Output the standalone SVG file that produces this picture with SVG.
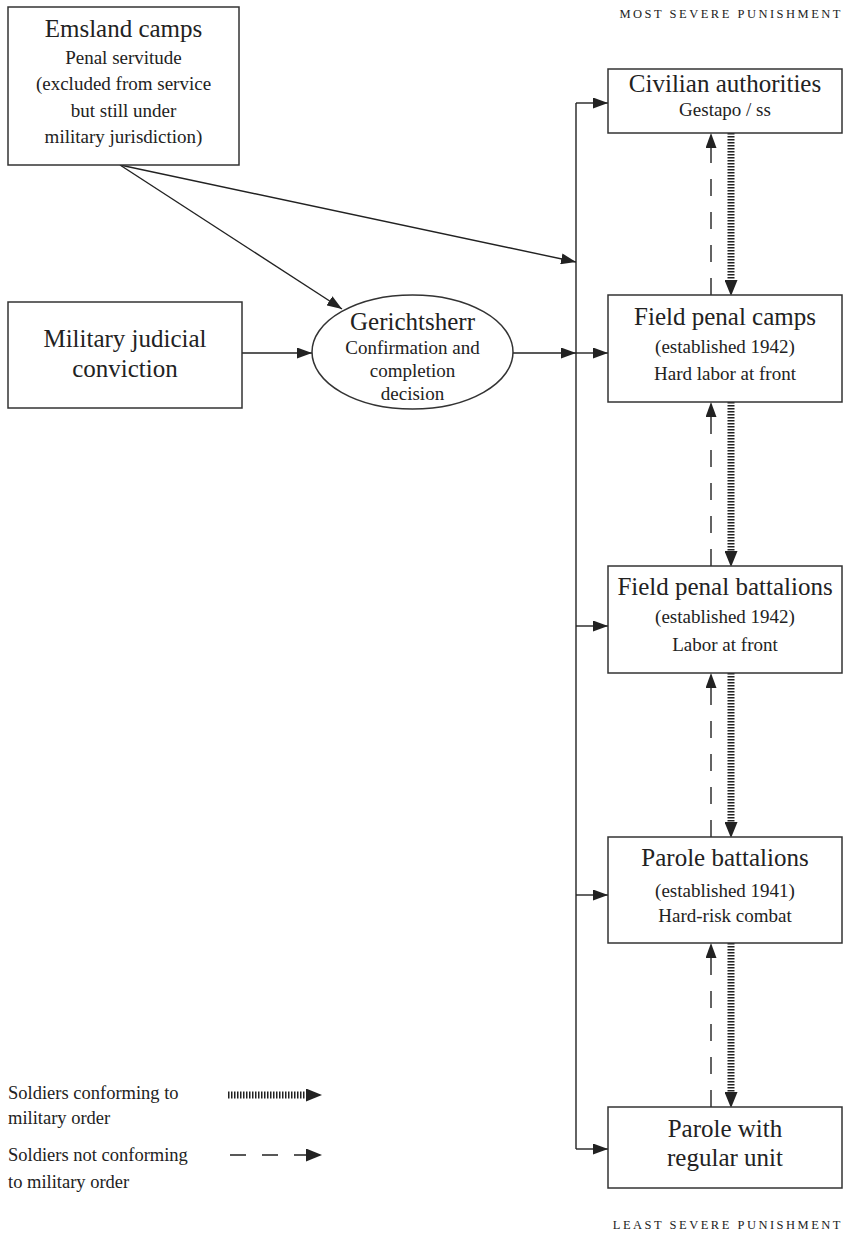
<svg xmlns="http://www.w3.org/2000/svg" width="848" height="1244" viewBox="0 0 848 1244">
<style>
.box{fill:#fff;stroke:#333;stroke-width:1.5}
.t{font-family:"Liberation Serif","DejaVu Serif",serif;fill:#222;text-anchor:middle}
.h{font-size:25px}
.s{font-size:19px}
.ln{fill:none;stroke:#222;stroke-width:1.4}
.dash{fill:none;stroke:#222;stroke-width:1.4;stroke-dasharray:17 16}
.hatch{fill:none;stroke:#222;stroke-width:7;stroke-dasharray:1.5 1.5}
.cap{font-size:12.5px;letter-spacing:2.5px;text-anchor:end}
.lg{font-size:18.5px;text-anchor:start}
</style>
<defs>
<marker id="a" markerUnits="userSpaceOnUse" markerWidth="15" markerHeight="11" refX="15" refY="5.5" orient="auto">
<path d="M0,0 L15,5.5 L0,11 z" fill="#222"/>
</marker>
<marker id="hb" markerUnits="userSpaceOnUse" markerWidth="16" markerHeight="13" refX="0" refY="6.5" orient="auto">
<path d="M0,0 L16,6.5 L0,13 z" fill="#222"/>
</marker>
</defs>
<rect width="848" height="1244" fill="#fff"/>

<text class="t cap" x="843" y="18">MOST SEVERE PUNISHMENT</text>
<text class="t cap" x="843" y="1229">LEAST SEVERE PUNISHMENT</text>

<g id="connectors">
<path class="ln" d="M576,103 V1149"/>
<path class="ln" d="M576,103 H608" marker-end="url(#a)"/>
<path class="ln" d="M576,353 H608" marker-end="url(#a)"/>
<path class="ln" d="M576,626 H608" marker-end="url(#a)"/>
<path class="ln" d="M576,895 H608" marker-end="url(#a)"/>
<path class="ln" d="M576,1149 H608" marker-end="url(#a)"/>
<path class="ln" d="M242,353 H312" marker-end="url(#a)"/>
<path class="ln" d="M513,353 H576" marker-end="url(#a)"/>
<path class="ln" d="M120,165 L342,309" marker-end="url(#a)"/>
<path class="ln" d="M120,165 L576,262" marker-end="url(#a)"/>
<path class="dash" d="M711,295 V133" marker-end="url(#a)"/>
<path class="hatch" d="M731,133 V280" marker-end="url(#hb)"/>
<path class="dash" d="M711,566 V402" marker-end="url(#a)"/>
<path class="hatch" d="M731,402 V551" marker-end="url(#hb)"/>
<path class="dash" d="M711,837 V673" marker-end="url(#a)"/>
<path class="hatch" d="M731,673 V822" marker-end="url(#hb)"/>
<path class="dash" d="M711,1107 V943" marker-end="url(#a)"/>
<path class="hatch" d="M731,943 V1092" marker-end="url(#hb)"/>
<path class="hatch" d="M228,1095 H306" marker-end="url(#hb)"/>
<path class="dash" d="M230,1155 H306" style="stroke-dasharray:16 16" marker-end="url(#hb)"/>
</g>

<g id="emsland">
<rect class="box" x="8" y="7" width="231" height="158"/>
<text class="t h" x="123.5" y="37">Emsland camps</text>
<text class="t s" x="123.5" y="64">Penal servitude</text>
<text class="t s" x="123.5" y="90">(excluded from service</text>
<text class="t s" x="123.5" y="117">but still under</text>
<text class="t s" x="123.5" y="143">military jurisdiction)</text>
</g>

<g id="military">
<rect class="box" x="8" y="302" width="234" height="106"/>
<text class="t h" x="125" y="347">Military judicial</text>
<text class="t h" x="125" y="377">conviction</text>
</g>

<g id="gerichtsherr">
<ellipse class="box" cx="412.5" cy="352" rx="100.5" ry="57"/>
<text class="t h" x="412.5" y="330">Gerichtsherr</text>
<text class="t s" x="412.5" y="354">Confirmation and</text>
<text class="t s" x="412.5" y="377">completion</text>
<text class="t s" x="412.5" y="400">decision</text>
</g>

<g id="civilian">
<rect class="box" x="608" y="69" width="234" height="64"/>
<text class="t h" x="725" y="92">Civilian authorities</text>
<text class="t s" x="725" y="116">Gestapo / ss</text>
</g>

<g id="fieldcamps">
<rect class="box" x="608" y="295" width="234" height="107"/>
<text class="t h" x="725" y="325">Field penal camps</text>
<text class="t s" x="725" y="353">(established 1942)</text>
<text class="t s" x="725" y="380">Hard labor at front</text>
</g>

<g id="fieldbattalions">
<rect class="box" x="608" y="566" width="234" height="107"/>
<text class="t h" x="725" y="595">Field penal battalions</text>
<text class="t s" x="725" y="623">(established 1942)</text>
<text class="t s" x="725" y="651">Labor at front</text>
</g>

<g id="parolebattalions">
<rect class="box" x="608" y="837" width="234" height="106"/>
<text class="t h" x="725" y="866">Parole battalions</text>
<text class="t s" x="725" y="897">(established 1941)</text>
<text class="t s" x="725" y="922">Hard-risk combat</text>
</g>

<g id="paroleregular">
<rect class="box" x="608" y="1107" width="234" height="81"/>
<text class="t h" x="725" y="1137">Parole with</text>
<text class="t h" x="725" y="1166">regular unit</text>
</g>

<g id="legend">
<text class="t lg" x="8" y="1099">Soldiers conforming to</text>
<text class="t lg" x="8" y="1124">military order</text>
<text class="t lg" x="8" y="1161">Soldiers not conforming</text>
<text class="t lg" x="8" y="1188">to military order</text>
</g>
</svg>
